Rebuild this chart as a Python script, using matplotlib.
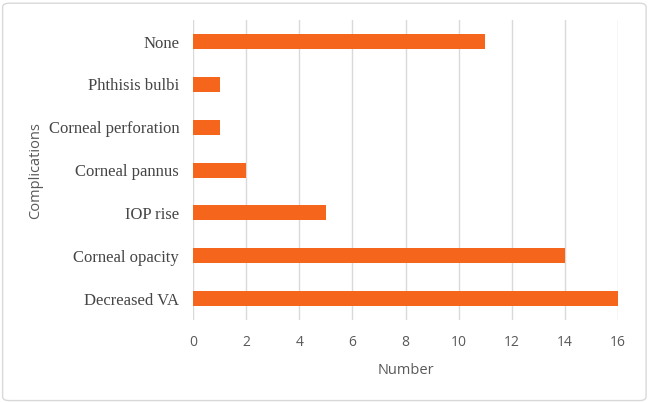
import matplotlib
matplotlib.use('Agg')
import matplotlib.pyplot as plt
from matplotlib.patches import FancyBboxPatch

categories = ['Decreased VA', 'Corneal opacity', 'IOP rise', 'Corneal pannus',
              'Corneal perforation', 'Phthisis bulbi', 'None']
values = [16, 14, 5, 2, 1, 1, 11]
xticks = [0, 2, 4, 6, 8, 10, 12, 14, 16]

fig = plt.figure(figsize=(6.5, 4.03), dpi=100)
ax = fig.add_axes([0.297, 0.206, 0.654, 0.744])

ax.barh(range(len(categories)), values, height=0.35, color='#F5651C', zorder=3)
ax.set_ylim(-0.5, len(categories) - 0.5)
ax.set_xlim(0, 16)
ax.set_xticks(xticks)
ax.set_xticklabels([str(t) for t in xticks], color='#595959', fontsize=10,
                   family='Open Sans')
ax.set_yticks(range(len(categories)))
ax.set_yticklabels(categories, family='Liberation Serif', fontsize=12,
                   color='#454545')
ax.tick_params(axis='both', length=0)
ax.tick_params(axis='y', pad=10)
ax.tick_params(axis='x', pad=11)
ax.grid(axis='x', color='#D9D9D9', linewidth=1, zorder=0)
for s in ax.spines.values():
    s.set_visible(False)

ax.set_xlabel('Number', family='Open Sans', fontsize=10.5, color='#595959', labelpad=9)
ax.set_ylabel('Complications', family='Open Sans', fontsize=10.5, color='#595959',
              labelpad=4)

border = FancyBboxPatch((0.004, 0.006), 0.99, 0.986, boxstyle='round,pad=0,rounding_size=0.01',
                        transform=fig.transFigure, fill=False, edgecolor='#D9D9D9',
                        linewidth=1)
fig.patches.append(border)

fig.savefig('out.png', dpi=100)
